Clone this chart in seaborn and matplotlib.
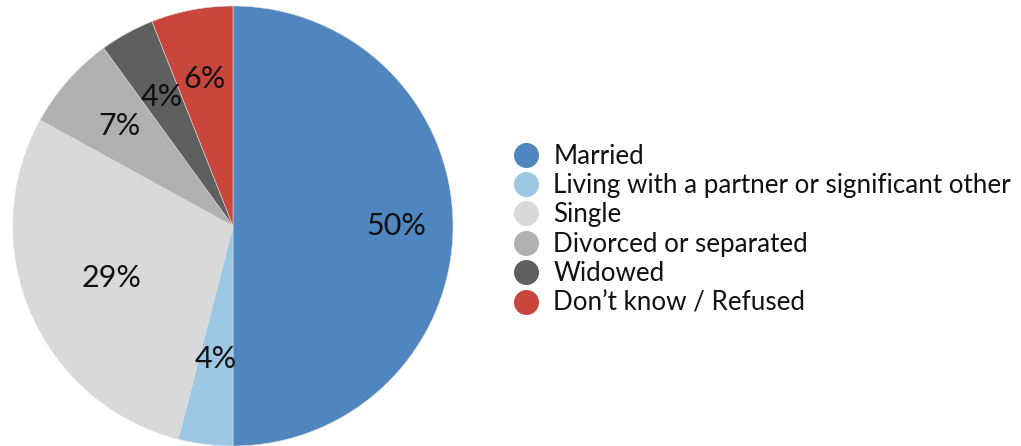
import matplotlib.pyplot as plt
import numpy as np
import seaborn as sns
from matplotlib.lines import Line2D

categories = ["Married", "Living with a partner or significant other", "Single",
              "Divorced or separated", "Widowed", "Don\u2019t know / Refused"]
shares = [50, 4, 29, 7, 4, 6]
colors = ["#5086BF", "#9DC8E3", "#D9D9D9", "#B0B0B0", "#5F5F5F", "#C9463D"]
label_dist = [0.74, 0.61, 0.60, 0.69, 0.67, 0.68]

sns.set_theme(style="white")
plt.rcParams['font.family'] = ['Lato', 'DejaVu Sans']

fig = plt.figure(figsize=(10.21, 4.46), dpi=100)
ax = fig.add_axes([13 / 1021, 0.0, 440 / 1021, 440 / 446])
wedges, _ = ax.pie(shares, colors=colors, startangle=90, counterclock=False,
                   radius=1, wedgeprops=dict(linewidth=0.4, edgecolor="#dddddd"))
ax.set_xlim(-1, 1)
ax.set_ylim(-1, 1)
ax.set_aspect("equal")
ax.axis("off")

for w, v, d in zip(wedges, shares, label_dist):
    ang = np.deg2rad((w.theta1 + w.theta2) / 2)
    ax.text(d * np.cos(ang), d * np.sin(ang), f"{v}%", ha="center", va="center",
            fontsize=22, color="#111111")

handles = [Line2D([], [], marker="o", linestyle="", markersize=17,
                  markerfacecolor=c, markeredgecolor=c) for c in colors]
fig.legend(handles, categories, loc="center left", bbox_to_anchor=(513 / 1021, 0.485),
           frameon=False, fontsize=18.7, handletextpad=0.55, labelspacing=0.17,
           handlelength=1.0, borderpad=0, borderaxespad=0, labelcolor="#111111")

fig.savefig("out.png", dpi=100)
